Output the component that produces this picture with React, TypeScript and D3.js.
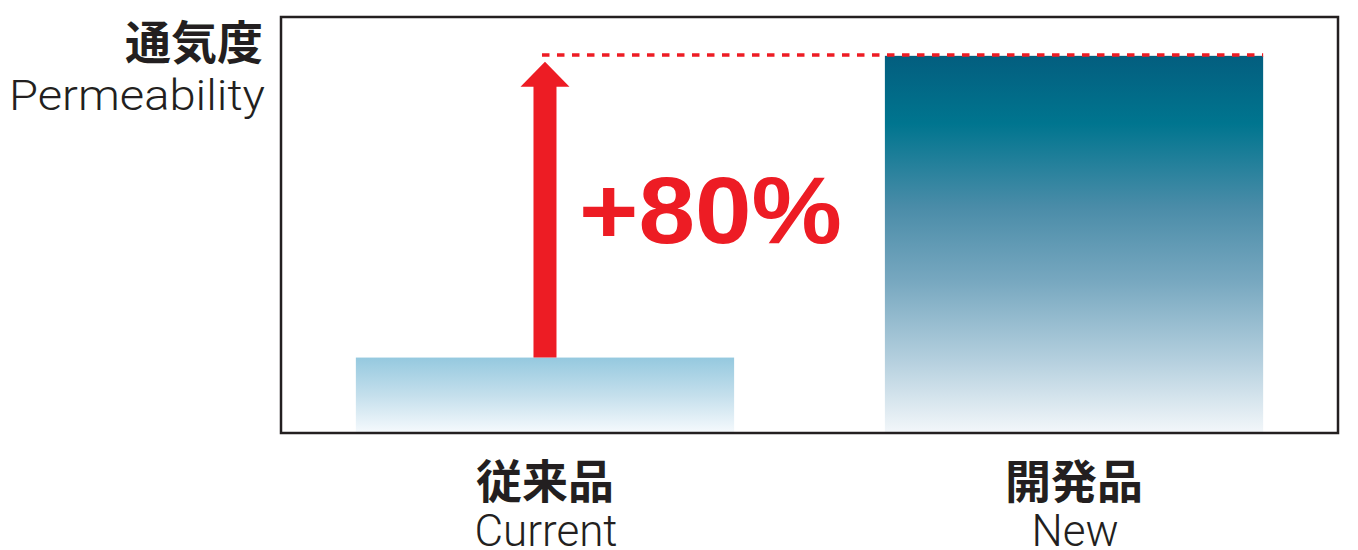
import React from "react";
import * as d3 from "d3";

const categories = ["current", "new"];
const labelsJa = ["従来品", "開発品"];
const labelsEn = ["Current", "New"];
const values = [100, 180];
const yDomain = [80, 190.3];
const yTitleJa = "通気度";
const yTitleEn = "Permeability";
const increaseLabel = "+80%";

const W = 1358;
const H = 550;
const frame = { x0: 281, x1: 1338, y0: 17, y1: 433 };
const RED = "#ed1c24";

export default function App() {
  const x = d3
    .scaleBand<string>()
    .domain(categories)
    .range([frame.x0, frame.x1])
    .paddingInner(0.285)
    .paddingOuter(0.1415);
  const y = d3.scaleLinear().domain(yDomain).range([frame.y1, frame.y0]);

  const bw = x.bandwidth();
  const cx0 = (x(categories[0]) as number) + bw / 2;
  const cx1 = (x(categories[1]) as number) + bw / 2;
  const yCur = y(values[0]);
  const yNew = y(values[1]);

  // arrow
  const shaftHalf = 11.5;
  const headHalf = 24.5;
  const tipY = yNew + 6;
  const headBase = tipY + 25;
  const arrowPath = d3.path();
  arrowPath.moveTo(cx0 - shaftHalf, yCur);
  arrowPath.lineTo(cx0 - shaftHalf, headBase);
  arrowPath.lineTo(cx0 - headHalf, headBase);
  arrowPath.lineTo(cx0, tipY);
  arrowPath.lineTo(cx0 + headHalf, headBase);
  arrowPath.lineTo(cx0 + shaftHalf, headBase);
  arrowPath.lineTo(cx0 + shaftHalf, yCur);
  arrowPath.closePath();

  const fills = ["url(#gradCur)", "url(#gradNew)"];

  return (
    <svg
      width={W}
      height={H}
      viewBox={`0 0 ${W} ${H}`}
      style={{ position: "absolute", left: 0, top: 0, background: "#fff" }}
    >
      <defs>
        <linearGradient id="gradCur" x1="0" y1="0" x2="0" y2="1">
          <stop offset="0" stopColor="#95c9df" />
          <stop offset="0.5" stopColor="#c4dfec" />
          <stop offset="1" stopColor="#f6fafd" />
        </linearGradient>
        <linearGradient id="gradNew" x1="0" y1="0" x2="0" y2="1">
          <stop offset="0" stopColor="#035e7f" />
          <stop offset="0.18" stopColor="#00758f" />
          <stop offset="0.4" stopColor="#4a8ca8" />
          <stop offset="0.6" stopColor="#78a8c0" />
          <stop offset="0.8" stopColor="#b2cedd" />
          <stop offset="1" stopColor="#f3f7fa" />
        </linearGradient>
      </defs>

      {categories.map((c, i) => (
        <rect
          key={c}
          x={x(c)}
          y={y(values[i])}
          width={bw}
          height={frame.y1 - y(values[i])}
          fill={fills[i]}
        />
      ))}

      <rect
        x={frame.x0}
        y={frame.y0}
        width={frame.x1 - frame.x0}
        height={frame.y1 - frame.y0}
        fill="none"
        stroke="#231f20"
        strokeWidth={2.5}
      />

      <line
        x1={cx0 - 3}
        x2={cx1 + bw / 2}
        y1={yNew - 0.8}
        y2={yNew - 0.8}
        stroke={RED}
        strokeWidth={3.5}
        strokeDasharray="7.5 7.5"
      />

      <path d={arrowPath.toString()} fill={RED} />

      <text
        x={579}
        y={243}
        fill={RED}
        fontFamily="Liberation Sans, Arial, sans-serif"
        fontWeight={700}
        fontSize={95}
        textLength={263}
        lengthAdjust="spacingAndGlyphs"
      >
        {increaseLabel}
      </text>

      <text
        x={263}
        y={59}
        textAnchor="end"
        fontFamily="Noto Sans CJK JP"
        fontWeight={700}
        fontSize={46}
        fill="#231f20"
      >
        {yTitleJa}
      </text>
      <text
        x={9}
        y={110}
        fontFamily="Roboto, sans-serif"
        fontWeight={300}
        fontSize={43}
        fill="#231f20"
        textLength={256}
        lengthAdjust="spacingAndGlyphs"
      >
        {yTitleEn}
      </text>

      {categories.map((c, i) => {
        const cx = (x(c) as number) + bw / 2;
        return (
          <g key={c}>
            <text
              x={cx}
              y={498}
              textAnchor="middle"
              fontFamily="Noto Sans CJK JP"
              fontWeight={700}
              fontSize={46}
              fill="#231f20"
            >
              {labelsJa[i]}
            </text>
            <text
              x={cx + 1}
              y={546}
              textAnchor="middle"
              fontFamily="Roboto, sans-serif"
              fontWeight={300}
              fontSize={44}
              fill="#231f20"
            >
              {labelsEn[i]}
            </text>
          </g>
        );
      })}
    </svg>
  );
}
